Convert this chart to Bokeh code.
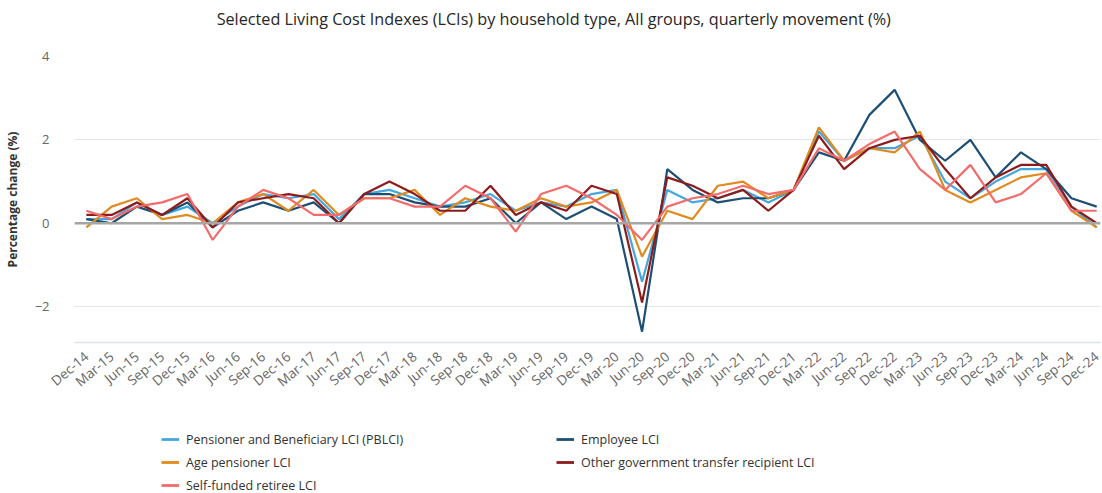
import math
from bokeh.plotting import figure
from bokeh.layouts import column
from bokeh.models import Range1d, FixedTicker, Span, Legend, LegendItem, Label
from bokeh.embed import file_html
from bokeh.resources import INLINE

quarters = ["Dec-14", "Mar-15", "Jun-15", "Sep-15", "Dec-15", "Mar-16", "Jun-16", "Sep-16", "Dec-16",
            "Mar-17", "Jun-17", "Sep-17", "Dec-17", "Mar-18", "Jun-18", "Sep-18", "Dec-18",
            "Mar-19", "Jun-19", "Sep-19", "Dec-19", "Mar-20", "Jun-20", "Sep-20", "Dec-20",
            "Mar-21", "Jun-21", "Sep-21", "Dec-21", "Mar-22", "Jun-22", "Sep-22", "Dec-22",
            "Mar-23", "Jun-23", "Sep-23", "Dec-23", "Mar-24", "Jun-24", "Sep-24", "Dec-24"]

pblci = [0.1, 0.1, 0.5, 0.2, 0.4, 0.0, 0.4, 0.7, 0.6, 0.7, 0.1,
         0.7, 0.8, 0.6, 0.4, 0.5, 0.7, 0.3, 0.5, 0.4, 0.7, 0.8,
         -1.4, 0.8, 0.5, 0.6, 0.8, 0.5, 0.8, 2.2, 1.5, 1.8, 1.8,
         2.1, 1.0, 0.6, 1.0, 1.3, 1.3, 0.4, -0.1]
employee = [0.1, 0.0, 0.4, 0.2, 0.5, -0.1, 0.3, 0.5, 0.3, 0.5, 0.0,
            0.7, 0.7, 0.5, 0.4, 0.4, 0.6, 0.0, 0.5, 0.1, 0.4, 0.1,
            -2.6, 1.3, 0.8, 0.5, 0.6, 0.6, 0.8, 1.7, 1.5, 2.6, 3.2,
            2.0, 1.5, 2.0, 1.1, 1.7, 1.3, 0.6, 0.4]
age_pensioner = [-0.1, 0.4, 0.6, 0.1, 0.2, 0.0, 0.5, 0.7, 0.3, 0.8, 0.2,
                 0.6, 0.6, 0.8, 0.2, 0.6, 0.4, 0.3, 0.6, 0.4, 0.5, 0.8,
                 -0.8, 0.3, 0.1, 0.9, 1.0, 0.6, 0.8, 2.3, 1.5, 1.8, 1.7,
                 2.2, 0.8, 0.5, 0.8, 1.1, 1.2, 0.3, -0.1]
other_gov = [0.2, 0.2, 0.5, 0.2, 0.6, -0.1, 0.5, 0.6, 0.7, 0.6, 0.0,
             0.7, 1.0, 0.7, 0.3, 0.3, 0.9, 0.2, 0.5, 0.3, 0.9, 0.7,
             -1.9, 1.1, 0.9, 0.6, 0.8, 0.3, 0.8, 2.1, 1.3, 1.8, 2.0,
             2.1, 1.3, 0.6, 1.1, 1.4, 1.4, 0.4, 0.0]
self_funded = [0.3, 0.1, 0.4, 0.5, 0.7, -0.4, 0.4, 0.8, 0.6, 0.2, 0.2,
               0.6, 0.6, 0.4, 0.4, 0.9, 0.6, -0.2, 0.7, 0.9, 0.6, 0.2,
               -0.4, 0.4, 0.6, 0.7, 0.9, 0.7, 0.8, 1.8, 1.5, 1.9, 2.2,
               1.3, 0.8, 1.4, 0.5, 0.7, 1.2, 0.3, 0.3]

series_names = ["Pensioner and Beneficiary LCI (PBLCI)", "Employee LCI", "Age pensioner LCI",
                "Other government transfer recipient LCI", "Self-funded retiree LCI"]
y_ticks = [-2, 0, 2, 4]
title_text = "Selected Living Cost Indexes (LCIs) by household type, All groups, quarterly movement (%)"

FONT = "Open Sans"
W = 1102
BL, BR = 66, 2          # left / right borders shared by all three strips
x = list(range(len(quarters)))
colors = ["#45a7e0", "#1d4f76", "#df8b1f", "#8c1c1c", "#f36b6b"]
data = [pblci, employee, age_pensioner, other_gov, self_funded]


def blank_fig(h):
    f = figure(width=W, height=h, output_backend="svg", toolbar_location=None,
               x_range=Range1d(BL, W - BR), y_range=Range1d(0, h),
               x_axis_location=None, y_axis_location=None,
               min_border_left=BL, min_border_right=BR, min_border_top=0, min_border_bottom=0)
    f.grid.visible = False
    f.outline_line_color = None
    return f


# ---- title strip ----
TH = 36
tf = blank_fig(TH)
tf.add_layout(Label(x=549, y=TH - 18, text=title_text, text_align="center", text_baseline="middle",
                    text_font=FONT, text_font_size="16.2px", text_color="#262626"))

# ---- main chart ----
MH = 374
p = figure(width=W, height=MH, output_backend="svg", toolbar_location=None,
           x_range=Range1d(-0.47, 40.15), y_range=Range1d(-2.86, 4.0),
           min_border_left=BL, min_border_right=BR, min_border_top=20, min_border_bottom=68)
p.outline_line_color = None
p.background_fill_color = "white"

p.xgrid.visible = False
p.ygrid.ticker = FixedTicker(ticks=y_ticks)
p.ygrid.grid_line_color = "#e6e6e6"
p.ygrid.grid_line_width = 1

yax = p.yaxis[0]
yax.ticker = FixedTicker(ticks=y_ticks)
yax.axis_line_color = None
yax.major_tick_line_color = None
yax.minor_tick_line_color = None
yax.major_label_text_font = FONT
yax.major_label_text_font_size = "13px"
yax.major_label_text_color = "#666666"
yax.major_label_standoff = 19
yax.axis_label = "Percentage change (%)"
yax.axis_label_text_font = FONT
yax.axis_label_text_font_size = "12px"
yax.axis_label_text_font_style = "bold"
yax.axis_label_text_color = "#333333"
yax.axis_label_standoff = 11

xax = p.xaxis[0]
xax.ticker = FixedTicker(ticks=x)
xax.major_label_overrides = {i: q for i, q in enumerate(quarters)}
xax.major_label_orientation = 0.7
xax.major_label_text_font = FONT
xax.major_label_text_font_size = "13.5px"
xax.major_label_text_color = "#666666"
xax.major_label_standoff = 6
xax.axis_line_color = "#dde2ea"
xax.axis_line_width = 1.5
xax.major_tick_line_color = None
xax.minor_tick_line_color = None

p.add_layout(Span(location=0, dimension="width", line_color="#a6a6a6", line_width=2.5))

for vals, c in zip(data, colors):
    p.line(x, vals, line_color=c, line_width=2.2)

# ---- legend strip ----
LH = 83
lf = blank_fig(LH)
dummy = [lf.line([0], [0], line_color=c, line_width=2.8) for c in colors]
order = [0, 2, 4, 1, 3]
items = [LegendItem(label=series_names[i], renderers=[dummy[i]]) for i in order]
legend = Legend(items=items, orientation="vertical", ncols=2,
                location=(160 - BL - 7, -2), glyph_width=18, glyph_height=20,
                label_height=20, label_width=367, label_standoff=7, spacing=3,
                padding=0, margin=0, border_line_color=None, background_fill_alpha=0,
                label_text_font=FONT, label_text_font_size="12.5px", label_text_color="#333333")
lf.add_layout(legend, "center")

layout = column(tf, p, lf, spacing=0)
open("out.html", "w").write(file_html(layout, INLINE))
